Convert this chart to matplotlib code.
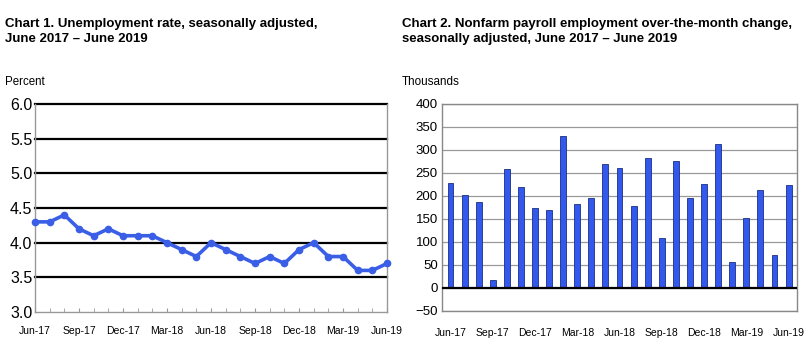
import matplotlib.pyplot as plt
import numpy as np

plt.rcParams['font.family'] = ['Liberation Sans', 'DejaVu Sans']

months = ["Jun-17", "Jul-17", "Aug-17", "Sep-17", "Oct-17", "Nov-17", "Dec-17",
          "Jan-18", "Feb-18", "Mar-18", "Apr-18", "May-18", "Jun-18", "Jul-18",
          "Aug-18", "Sep-18", "Oct-18", "Nov-18", "Dec-18", "Jan-19", "Feb-19",
          "Mar-19", "Apr-19", "May-19", "Jun-19"]
unemployment = [4.3, 4.3, 4.4, 4.2, 4.1, 4.2, 4.1, 4.1, 4.1, 4.0, 3.9, 3.8, 4.0,
                3.9, 3.8, 3.7, 3.8, 3.7, 3.9, 4.0, 3.8, 3.8, 3.6, 3.6, 3.7]
payroll = [229, 203, 188, 18, 259, 220, 174, 170, 330, 182, 196, 270, 261,
           178, 282, 108, 277, 196, 227, 312, 56, 153, 214, 72, 224]

x = np.arange(len(months))
label_idx = x[::3]
blue = "#3a5fe6"

fig = plt.figure(figsize=(8.1, 3.53), dpi=100)

# Chart 1: unemployment rate
ax1 = fig.add_axes([0.0432, 0.1161, 0.4346, 0.5893])
ax1.plot(x, unemployment, color=blue, lw=2.6, marker='o', ms=4.5, zorder=3, clip_on=False)
ax1.set_xlim(0, 24)
ax1.set_ylim(3.0, 6.0)
ax1.set_yticks(np.arange(3.0, 6.01, 0.5))
ax1.set_yticklabels([f"{v:.1f}" for v in np.arange(3.0, 6.01, 0.5)], fontsize=11.5)
for v in np.arange(3.5, 6.01, 0.5):
    ax1.axhline(v, color="black", lw=1.6, zorder=1, clip_on=False)
ax1.set_xticks(x, minor=True)
ax1.set_xticks(label_idx)
ax1.set_xticklabels([months[i] for i in label_idx], fontsize=7.5)
ax1.tick_params(axis='x', which='both', direction='in', length=3, color="#999999", pad=10)
ax1.tick_params(axis='y', length=0, pad=2)
ax1.spines['top'].set_visible(False)
for s in ['left', 'bottom', 'right']:
    ax1.spines[s].set_color("#999999")
    ax1.spines[s].set_linewidth(1.0)

fig.text(0.006, 0.95, "Chart 1. Unemployment rate, seasonally adjusted,\nJune 2017 \u2013 June 2019",
         fontsize=9.5, fontweight='bold', va='top', ha='left', linespacing=1.35)
fig.text(0.006, 0.768, "Percent", fontsize=8.3, va='center', ha='left')

# Chart 2: payroll employment change
ax2 = fig.add_axes([0.5457, 0.119, 0.4383, 0.5864])
ax2.bar(x, payroll, width=0.42, color="#3358ee", edgecolor="#1a2f80", linewidth=0.6, zorder=3)
ax2.set_xlim(-0.6, 24.6)
ax2.set_ylim(-50, 400)
ax2.set_yticks(np.arange(-50, 401, 50))
ax2.tick_params(axis='y', labelsize=9.5, length=0, pad=3)
ax2.set_xticks(label_idx)
ax2.set_xticklabels([months[i] for i in label_idx], fontsize=7.5)
ax2.tick_params(axis='x', length=0, pad=12)
ax2.grid(axis='y', color="#999999", lw=0.9, zorder=0)
ax2.axhline(0, color="black", lw=1.6, zorder=4)
for s in ax2.spines.values():
    s.set_color("#888888")
    s.set_linewidth(1.0)

fig.text(0.496, 0.95, "Chart 2. Nonfarm payroll employment over-the-month change,\nseasonally adjusted, June 2017 \u2013 June 2019",
         fontsize=9.5, fontweight='bold', va='top', ha='left', linespacing=1.35)
fig.text(0.496, 0.768, "Thousands", fontsize=8.4, va='center', ha='left')

fig.savefig("out.png", dpi=100)
